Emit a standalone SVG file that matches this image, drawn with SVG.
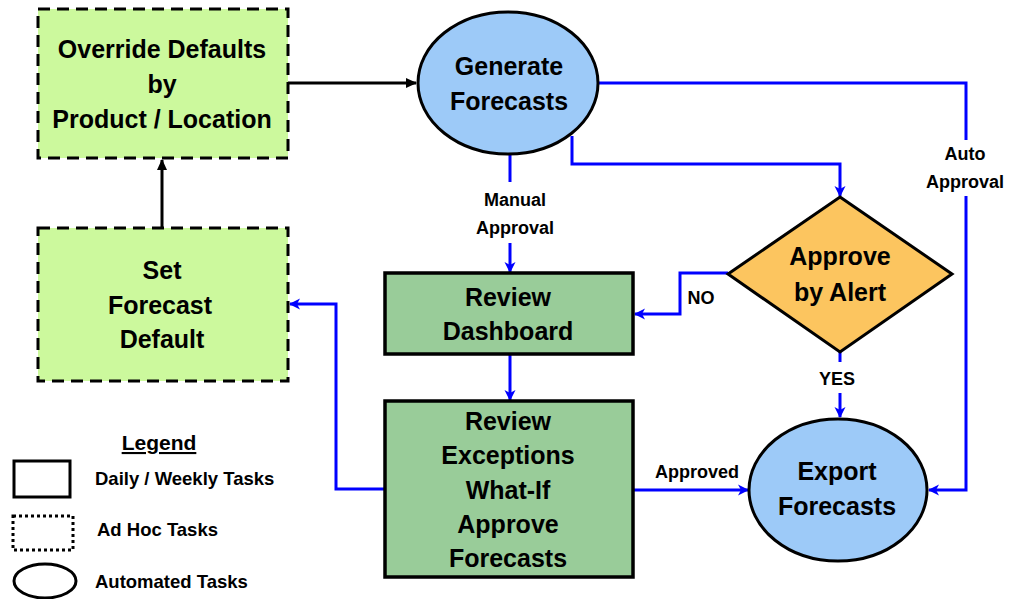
<svg xmlns="http://www.w3.org/2000/svg" width="1013" height="599" viewBox="0 0 1013 599">
<defs>
<marker id="ab" markerWidth="12" markerHeight="12" refX="10" refY="6" orient="auto" markerUnits="userSpaceOnUse">
<path d="M0,0.5 L11,6 L0,11.5 L3,6 z" fill="#0000ff"/>
</marker>
<marker id="ak" markerWidth="12" markerHeight="12" refX="10" refY="6" orient="auto" markerUnits="userSpaceOnUse">
<path d="M0,1 L11,6 L0,11 z" fill="#000"/>
</marker>
</defs>
<style>
text{font-family:"Liberation Sans",Arial,sans-serif;font-weight:bold;fill:#000}
.t{font-size:25px;text-anchor:middle}
.l{font-size:18px;text-anchor:middle}
.g{font-size:18.5px}
.adhoc{fill:#ccf99d;stroke:#000;stroke-width:3;stroke-dasharray:12,7}
.task{fill:#99cc99;stroke:#000;stroke-width:3.5}
.auto{fill:#9dcaf8;stroke:#000;stroke-width:3}
.blue{fill:none;stroke:#0000ff;stroke-width:3}
.blk{fill:none;stroke:#000;stroke-width:3}
</style>
<rect width="1013" height="599" fill="#fff"/>
<g id="connectors">
<path class="blk" d="M288,83 L416,83" marker-end="url(#ak)"/>
<path class="blk" d="M162,228 L162,160" marker-end="url(#ak)"/>
<path class="blue" d="M510,155 L510,182"/>
<path class="blue" d="M510,243 L510,272" marker-end="url(#ab)"/>
<path class="blue" d="M572,136 L572,164 L840,164 L840,196" marker-end="url(#ab)"/>
<path class="blue" d="M598,83 L966,83 L966,140"/>
<path class="blue" d="M966,196 L966,490 L929,490" marker-end="url(#ab)"/>
<path class="blue" d="M728,273 L680,273 L680,314 L635,314" marker-end="url(#ab)"/>
<path class="blue" d="M840,352 L840,362"/>
<path class="blue" d="M840,393 L840,417" marker-end="url(#ab)"/>
<path class="blue" d="M510,354 L510,400" marker-end="url(#ab)"/>
<path class="blue" d="M633,490 L748,490" marker-end="url(#ab)"/>
<path class="blue" d="M384,489 L336,489 L336,304 L290,304" marker-end="url(#ab)"/>
<text class="l" x="515" y="206">Manual</text>
<text class="l" x="515" y="234">Approval</text>
<text class="l" x="965" y="160">Auto</text>
<text class="l" x="965" y="188">Approval</text>
<text class="l" x="701" y="304">NO</text>
<text class="l" x="837" y="385">YES</text>
<text class="l" x="697" y="478">Approved</text>
</g>
<g id="override">
<rect class="adhoc" x="38" y="9" width="250" height="149"/>
<text class="t" x="162" y="58">Override Defaults</text>
<text class="t" x="162" y="93">by</text>
<text class="t" x="162" y="128">Product / Location</text>
</g>
<g id="setdefault">
<rect class="adhoc" x="38" y="228" width="250" height="153"/>
<text class="t" x="162" y="279">Set</text>
<text class="t" x="160" y="314">Forecast</text>
<text class="t" x="162" y="348">Default</text>
</g>
<g id="generate">
<ellipse class="auto" cx="508" cy="83" rx="90" ry="71"/>
<text class="t" x="509" y="75">Generate</text>
<text class="t" x="509" y="110">Forecasts</text>
</g>
<g id="dashboard">
<rect class="task" x="385" y="273" width="248" height="81"/>
<text class="t" x="508" y="306">Review</text>
<text class="t" x="508" y="340">Dashboard</text>
</g>
<g id="exceptions">
<rect class="task" x="385" y="401" width="248" height="176"/>
<text class="t" x="508" y="430">Review</text>
<text class="t" x="508" y="464">Exceptions</text>
<text class="t" x="508" y="499">What-If</text>
<text class="t" x="508" y="533">Approve</text>
<text class="t" x="508" y="567">Forecasts</text>
</g>
<g id="alert">
<polygon points="840,197 952,274 840,352 728,274" fill="#fcc55f" stroke="#000" stroke-width="3"/>
<text class="t" x="840" y="265">Approve</text>
<text class="t" x="840" y="301">by Alert</text>
</g>
<g id="export">
<ellipse class="auto" cx="838" cy="490" rx="89" ry="71"/>
<text class="t" x="837" y="480">Export</text>
<text class="t" x="837" y="515">Forecasts</text>
</g>
<g id="legend">
<text x="159" y="450" font-size="21" text-anchor="middle" text-decoration="underline">Legend</text>
<rect x="14" y="461" width="56" height="36" fill="#fff" stroke="#000" stroke-width="3"/>
<text class="g" x="95" y="485">Daily / Weekly Tasks</text>
<rect x="13" y="516" width="60" height="34" fill="#fff" stroke="#000" stroke-width="3" stroke-dasharray="3,3"/>
<text class="g" x="97" y="536">Ad Hoc Tasks</text>
<ellipse cx="45" cy="581" rx="31" ry="17" fill="#fff" stroke="#000" stroke-width="3"/>
<text class="g" x="95" y="588">Automated Tasks</text>
</g>
</svg>
